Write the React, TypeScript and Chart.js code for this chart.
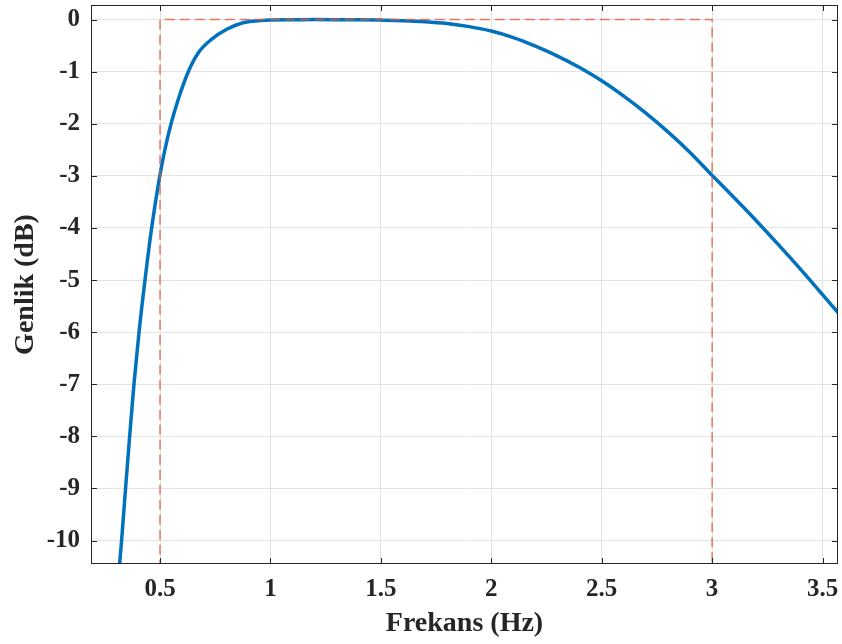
import React, { useEffect, useRef } from "react";
import { Chart, registerables } from "chart.js";

Chart.register(...registerables);

// Frequency (Hz) and magnitude (dB)
const FREQ = [
  0.314, 0.317, 0.326, 0.344, 0.3625, 0.382, 0.405, 0.432, 0.462, 0.499,
  0.522, 0.55, 0.585, 0.628, 0.673, 0.733, 0.8, 0.876, 0.953, 1.0, 1.1, 1.2,
  1.3, 1.4, 1.5, 1.6, 1.7, 1.8, 1.9, 2.0, 2.1, 2.2, 2.3, 2.4, 2.5, 2.6, 2.7,
  2.8, 2.9, 3.0, 3.1, 3.2, 3.3, 3.4, 3.5, 3.6,
];
const GAIN = [
  -10.62, -10.45, -10.0, -9.0, -8.0, -7.0, -6.0, -5.0, -4.0, -3.0,
  -2.5, -2.0, -1.5, -1.0, -0.64, -0.38, -0.19, -0.06, -0.02, -0.006, -0.002, 0,
  -0.001, -0.004, -0.01, -0.02, -0.04, -0.075, -0.135, -0.22, -0.345, -0.51, -0.7, -0.92, -1.175, -1.47, -1.795,
  -2.155, -2.55, -2.99, -3.42, -3.86, -4.32, -4.79, -5.28, -5.77,
];

// Passband marker (dashed red): cutoff frequencies and levels
const BAND_X = [0.5, 0.5, 3.0, 3.0];
const BAND_Y = [-12, 0, 0, -12];

const X_TICKS = [0.5, 1, 1.5, 2, 2.5, 3, 3.5];
const Y_TICKS = [0, -1, -2, -3, -4, -5, -6, -7, -8, -9, -10];
const X_MIN = 0.1875;
const X_MAX = 3.57;
const Y_MIN = -10.45;
const Y_MAX = 0.28;

const X_TITLE = "Frekans (Hz)";
const Y_TITLE = "Genlik (dB)";

const FONT = "'Liberation Serif', 'Times New Roman', serif";
const TEXT = "#262626";

const framePlugin = {
  id: "matlabFrame",
  afterDatasetsDraw(chart: any) {
    const { ctx, chartArea: a, scales } = chart;
    const xs = scales.x;
    const ys = scales.y;
    ctx.save();
    ctx.strokeStyle = TEXT;
    ctx.lineWidth = 1;
    ctx.strokeRect(a.left + 0.5, a.top + 0.5, a.right - a.left - 1, a.bottom - a.top - 1);
    const L = 6;
    ctx.beginPath();
    xs.ticks.forEach((t: any) => {
      const px = Math.round(xs.getPixelForValue(t.value)) + 0.5;
      ctx.moveTo(px, a.bottom);
      ctx.lineTo(px, a.bottom - L);
      ctx.moveTo(px, a.top);
      ctx.lineTo(px, a.top + L);
    });
    ys.ticks.forEach((t: any) => {
      const py = Math.round(ys.getPixelForValue(t.value)) + 0.5;
      ctx.moveTo(a.left, py);
      ctx.lineTo(a.left + L, py);
      ctx.moveTo(a.right, py);
      ctx.lineTo(a.right - L, py);
    });
    ctx.stroke();
    ctx.restore();
  },
};

export default function App() {
  const ref = useRef<HTMLCanvasElement>(null);

  useEffect(() => {
    if (!ref.current) return;
    const curve = FREQ.map((f, i) => ({ x: f, y: GAIN[i] }));
    const band = BAND_X.map((f, i) => ({ x: f, y: BAND_Y[i] }));
    const chart = new Chart(ref.current, {
      type: "line",
      data: {
        datasets: [
          {
            data: band,
            borderColor: "rgba(225, 92, 62, 0.8)",
            borderWidth: 1.5,
            borderDash: [10, 5],
            pointRadius: 0,
            tension: 0,
            order: 0,
          },
          {
            data: curve,
            borderColor: "#0072BD",
            borderWidth: 3.5,
            pointRadius: 0,
            cubicInterpolationMode: "monotone",
            order: 1,
          },
        ],
      },
      options: {
        responsive: false,
        animation: false,
        events: [],
        layout: { padding: { top: 5, right: 4, left: 0, bottom: 0 } },
        plugins: {
          legend: { display: false },
          tooltip: { enabled: false },
        },
        scales: {
          x: {
            type: "linear",
            min: X_MIN,
            max: X_MAX,
            afterBuildTicks: (s: any) => {
              s.ticks = X_TICKS.map((v) => ({ value: v }));
            },
            afterFit: (s: any) => {
              s.height = 80;
              s.paddingLeft = 0;
              s.paddingRight = 0;
            },
            grid: { color: "#e2e2e2", lineWidth: 1, drawTicks: false },
            border: { display: false },
            ticks: {
              color: TEXT,
              padding: 11,
              maxRotation: 0,
              autoSkip: false,
              font: { family: FONT, size: 25, weight: "bold" },
              callback: (v: any) => String(v),
            },
            title: {
              display: true,
              text: X_TITLE,
              color: TEXT,
              font: { family: FONT, size: 28, weight: "bold" },
              padding: { top: 0, bottom: 3 },
            },
          },
          y: {
            type: "linear",
            min: Y_MIN,
            max: Y_MAX,
            afterBuildTicks: (s: any) => {
              s.ticks = Y_TICKS.map((v) => ({ value: v }));
            },
            afterFit: (s: any) => {
              s.width = 91;
              s.paddingTop = 0;
              s.paddingBottom = 0;
            },
            grid: { color: "#e2e2e2", lineWidth: 1, drawTicks: false },
            border: { display: false },
            ticks: {
              color: TEXT,
              padding: 11,
              autoSkip: false,
              font: { family: FONT, size: 25, weight: "bold" },
              callback: (v: any) => String(v),
            },
            title: {
              display: true,
              text: Y_TITLE,
              color: TEXT,
              font: { family: FONT, size: 28, weight: "bold" },
              padding: { top: 9, bottom: 0 },
            },
          },
        },
      },
      plugins: [framePlugin],
    } as any);
    return () => chart.destroy();
  }, []);

  return (
    <div style={{ position: "fixed", left: 0, top: 0, width: 842, height: 644, background: "#fff" }}>
      <canvas ref={ref} width={842} height={644} style={{ display: "block" }} />
    </div>
  );
}
